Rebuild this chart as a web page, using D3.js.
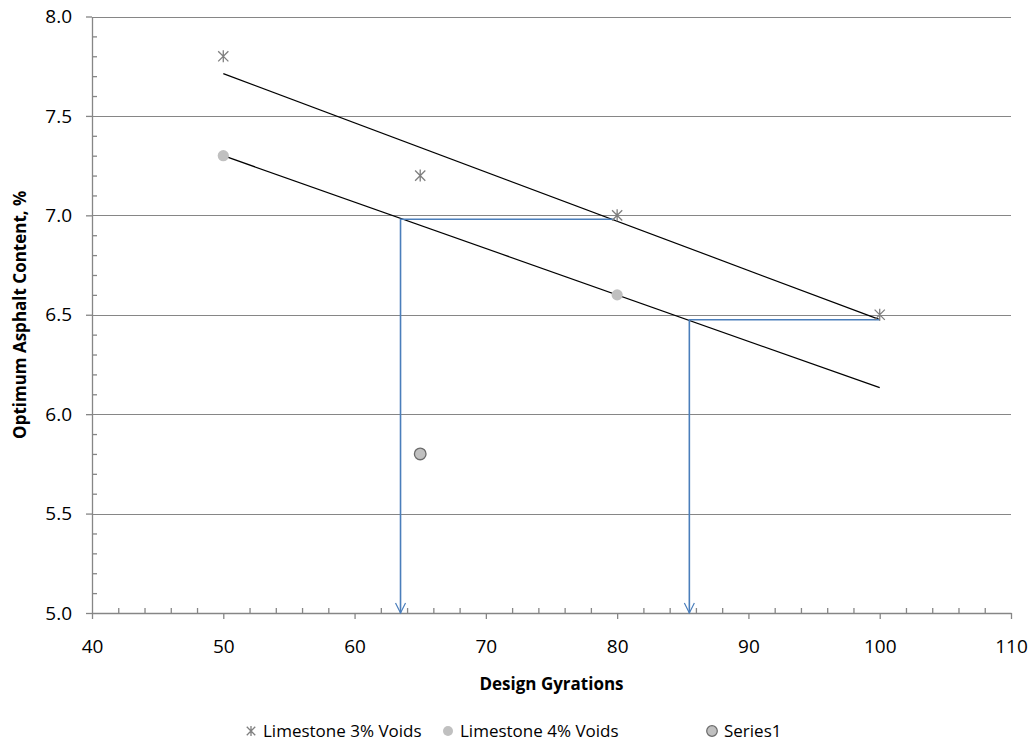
<!DOCTYPE html>
<html>
<head>
<meta charset="utf-8">
<script src="https://cdn.jsdelivr.net/npm/d3@7"></script>
<style>
  html, body { margin: 0; padding: 0; background: #fff; }
  svg { display: block; font-family: "Open Sans", "Noto Sans", sans-serif; }
</style>
</head>
<body>
<svg id="chart" width="1034" height="746"></svg>
<script>
// Design gyrations vs. optimum asphalt content
const gyr3 = [50, 65, 80, 100];
const ac3 = [7.8, 7.2, 7.0, 6.5];
const gyr4 = [50, 80];
const ac4 = [7.3, 6.6];
const gyrS1 = [65];
const acS1 = [5.8];

const xTicks = [40, 50, 60, 70, 80, 90, 100, 110];
const yTicks = [5.0, 5.5, 6.0, 6.5, 7.0, 7.5, 8.0];
const trendRange = [50, 100];

// Read-off guides: from the 3% trend across to the 4% trend, then down to the axis
const guideFrom = [79.8, 100];
const guideTo = [63.5, 85.5];
const guideAc = [6.98, 6.475];

const legendNames = ["Limestone 3% Voids", "Limestone 4% Voids", "Series1"];

const svg = d3.select("#chart");
const x = d3.scaleLinear().domain([40, 110]).range([92, 1011]);
const y = d3.scaleLinear().domain([5, 8]).range([613, 16.5]);

const gridColor = "#868686";

// horizontal gridlines
svg.append("g").selectAll("line")
  .data(yTicks.filter(v => v > 5))
  .join("line")
  .attr("x1", x(40)).attr("x2", x(110))
  .attr("y1", d => Math.round(y(d)) + 0.5).attr("y2", d => Math.round(y(d)) + 0.5)
  .attr("stroke", gridColor).attr("stroke-width", 1);

function styleAxis(g) {
  g.select(".domain").attr("stroke", gridColor).attr("stroke-width", 1.3);
  g.selectAll(".tick line").attr("stroke", gridColor).attr("stroke-width", 1.3);
  g.selectAll(".tick text").attr("fill", "#000").style("font-size", "19px")
    .style("font-family", "'Open Sans', sans-serif");
}

// minor ticks (inside)
const yMinor = d3.range(50, 81).map(v => v / 10).filter(v => Math.abs(v * 2 - Math.round(v * 2)) > 1e-6);
const xMinor = d3.range(40, 111, 2).filter(v => v % 10 !== 0);

svg.append("g").attr("transform", `translate(${x(40)},0)`)
  .call(d3.axisRight(y).tickValues(yMinor).tickSize(5).tickFormat(""))
  .call(g => { g.select(".domain").remove(); g.selectAll(".tick line").attr("stroke", gridColor).attr("stroke-width", 1.3); });

svg.append("g").attr("transform", `translate(0,${y(5)})`)
  .call(d3.axisTop(x).tickValues(xMinor).tickSize(5).tickFormat(""))
  .call(g => { g.select(".domain").remove(); g.selectAll(".tick line").attr("stroke", gridColor).attr("stroke-width", 1.3); });

// major axes
svg.append("g").attr("transform", `translate(${x(40)},0)`)
  .call(d3.axisLeft(y).tickValues(yTicks).tickSize(6).tickSizeOuter(0).tickPadding(14).tickFormat(d3.format(".1f")))
  .call(styleAxis);

svg.append("g").attr("transform", `translate(0,${y(5)})`)
  .call(d3.axisBottom(x).tickValues(xTicks).tickSize(6).tickSizeOuter(0).tickPadding(21).tickFormat(d3.format("d")))
  .call(styleAxis);

// least-squares trendlines
function fit(xs, ys) {
  const mx = d3.mean(xs), my = d3.mean(ys);
  const sxy = d3.sum(xs, (v, i) => (v - mx) * (ys[i] - my));
  const sxx = d3.sum(xs, v => (v - mx) * (v - mx));
  const b = sxy / sxx;
  return v => my + b * (v - mx);
}
const trendLine = d3.line().x(d => x(d[0])).y(d => y(d[1]));
[[gyr3, ac3], [gyr4, ac4]].forEach(([xs, ys]) => {
  const f = fit(xs, ys);
  svg.append("path")
    .attr("d", trendLine(trendRange.map(v => [v, f(v)])))
    .attr("fill", "none").attr("stroke", "#000").attr("stroke-width", 1.2);
});

// guide arrows
const blue = "#4a7ebb";
guideFrom.forEach((gx, i) => {
  svg.append("path")
    .attr("d", d3.line()([[x(gx), y(guideAc[i])], [x(guideTo[i]), y(guideAc[i])], [x(guideTo[i]), y(5)]]))
    .attr("fill", "none").attr("stroke", blue).attr("stroke-width", 1.6);
  svg.append("path")
    .attr("d", `M${x(guideTo[i]) - 5},${y(5) - 10} L${x(guideTo[i])},${y(5)} L${x(guideTo[i]) + 5},${y(5) - 10}`)
    .attr("fill", "none").attr("stroke", blue).attr("stroke-width", 1.2);
});

// markers
const starColor = "#7f7f7f";
function star(g, cx, cy, r) {
  const d = r * 0.85;
  g.append("path")
    .attr("d", `M${cx - d},${cy - d}L${cx + d},${cy + d}M${cx - d},${cy + d}L${cx + d},${cy - d}M${cx},${cy - r}L${cx},${cy + r}`)
    .attr("stroke", starColor).attr("stroke-width", 1.3).attr("fill", "none");
}
const pts3 = svg.append("g");
gyr3.forEach((v, i) => star(pts3, x(v), y(ac3[i]), 6));

svg.append("g").selectAll("circle")
  .data(gyr4.map((v, i) => [v, ac4[i]]))
  .join("circle")
  .attr("cx", d => x(d[0])).attr("cy", d => y(d[1])).attr("r", 5.6)
  .attr("fill", "#c0c0c0");

svg.append("g").selectAll("circle")
  .data(gyrS1.map((v, i) => [v, acS1[i]]))
  .join("circle")
  .attr("cx", d => x(d[0])).attr("cy", d => y(d[1])).attr("r", 5.8)
  .attr("fill", "#c0c0c0").attr("stroke", "#6a6a6a").attr("stroke-width", 1.3);

// axis titles
svg.append("text")
  .attr("x", (x(40) + x(110)) / 2).attr("y", 690)
  .attr("text-anchor", "middle")
  .style("font-size", "17px").style("font-weight", "bold")
  .text("Design Gyrations");

svg.append("text")
  .attr("transform", `translate(26,${(y(5) + y(8)) / 2}) rotate(-90)`)
  .attr("text-anchor", "middle")
  .style("font-size", "17px").style("font-weight", "bold")
  .text("Optimum Asphalt Content, %");

// legend
const legendX = [251, 448, 712];
const legendY = 731;
const lg = svg.append("g");
legendNames.forEach((name, i) => {
  const lx = legendX[i];
  if (i === 0) star(lg, lx, legendY, 5);
  else if (i === 1) lg.append("circle").attr("cx", lx).attr("cy", legendY).attr("r", 5).attr("fill", "#c0c0c0");
  else lg.append("circle").attr("cx", lx).attr("cy", legendY).attr("r", 5.3).attr("fill", "#c0c0c0").attr("stroke", "#6a6a6a").attr("stroke-width", 1.2);
  lg.append("text")
    .attr("x", lx + 12).attr("y", legendY).attr("dy", "0.35em")
    .style("font-size", "17px")
    .text(name);
});
</script>
</body>
</html>
